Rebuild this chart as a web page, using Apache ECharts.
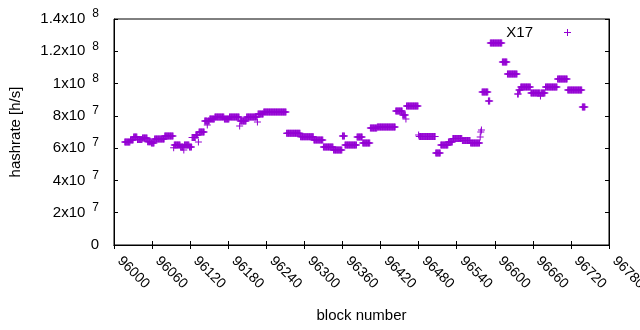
<!DOCTYPE html>
<html>
<head>
<meta charset="utf-8">
<script src="https://cdn.jsdelivr.net/npm/echarts@6/dist/echarts.min.js"></script>
<style>
html, body { margin: 0; padding: 0; background: #fff; }
#chart { width: 640px; height: 330px; }
</style>
</head>
<body>
<div id="chart"></div>
<script>
// hashrate stays constant over runs of blocks: [first block, last block, MH/s]
var runs = [
    [96017, 96025, 63.8], [96026, 96030, 65.1], [96031, 96036, 66.9], [96037, 96044, 65.4],
    [96045, 96052, 66.3], [96053, 96058, 64.0], [96059, 96063, 63.2], [96064, 96079, 65.7],
    [96080, 96093, 67.5], [96094, 96094, 60.2], [96095, 96104, 62.0], [96105, 96109, 60.7],
    [96110, 96110, 58.9], [96111, 96118, 62.0], [96119, 96122, 60.7], [96123, 96128, 66.6],
    [96129, 96132, 68.2], [96133, 96133, 63.8], [96134, 96142, 70.0], [96143, 96146, 76.8],
    [96147, 96147, 74.4], [96148, 96150, 76.8], [96151, 96158, 78.1], [96159, 96173, 79.3],
    [96174, 96181, 78.1], [96182, 96197, 79.3], [96198, 96198, 73.7], [96199, 96208, 76.8],
    [96209, 96225, 79.3], [96226, 96226, 76.2], [96227, 96235, 81.2], [96236, 96271, 82.4],
    [96272, 96293, 69.2], [96294, 96314, 67.1], [96315, 96329, 65.0], [96330, 96345, 60.7],
    [96346, 96359, 58.9], [96360, 96363, 67.5], [96364, 96382, 62.0], [96383, 96391, 66.9],
    [96392, 96403, 63.2], [96404, 96414, 72.5], [96415, 96443, 73.1], [96444, 96454, 83.0],
    [96455, 96459, 80.5], [96460, 96460, 78.1], [96461, 96479, 86.1], [96480, 96480, 68.2],
    [96481, 96506, 67.2], [96507, 96514, 57.0], [96515, 96526, 62.0], [96527, 96533, 63.8],
    [96534, 96548, 66.0], [96549, 96561, 64.7], [96562, 96576, 63.2], [96577, 96577, 66.9],
    [96578, 96578, 70.0], [96579, 96579, 71.2], [96580, 96589, 94.8], [96590, 96592, 89.2],
    [96593, 96611, 125.2], [96612, 96619, 113.4], [96620, 96635, 105.9], [96636, 96637, 93.6],
    [96638, 96640, 96.0], [96641, 96656, 97.9], [96657, 96663, 94.2], [96664, 96671, 94.2],
    [96672, 96672, 92.3], [96673, 96679, 94.2], [96680, 96698, 97.9], [96699, 96714, 102.8],
    [96715, 96737, 96.0], [96738, 96742, 85.5]
];
var seriesName = 'X17';
var xRange = [96000, 96780, 60];
var yRange = [0, 1.4e8, 2e7];

// one point per block
var points = [];
runs.forEach(function (r) {
    for (var b = r[0]; b <= r[1]; b++) {
        points.push([b, r[2] * 1e6]);
    }
});

var plus = 'path://M0,3h7v1h-7z M3,0h1v7h-1z';
var font = 'Liberation Sans, Arial, sans-serif';

// gnuplot style "1.4x10^8"
function sciLabel(v) {
    if (v === 0) return '0';
    var e = Math.floor(Math.log10(v) + 1e-9);
    var m = Math.round(v / Math.pow(10, e) * 10) / 10;
    return m + 'x10{s|' + e + '}';
}

var myChart = echarts.init(document.getElementById('chart'));
var option = {
    animation: false,
    textStyle: { fontFamily: font },
    grid: {
        left: 114, right: 31, top: 19, bottom: 85,
        outerBoundsMode: 'none',
        containLabel: false,
        show: true, borderColor: '#000', borderWidth: 1
    },
    legend: {
        data: [seriesName],
        right: 64, top: 20,
        align: 'right',
        icon: plus,
        itemWidth: 7, itemHeight: 7,
        itemGap: 0,
        textStyle: { fontSize: 15, color: '#000', fontFamily: font, padding: [0, 26, 0, 0] }
    },
    xAxis: [
        {
            type: 'value',
            min: xRange[0], max: xRange[1], interval: xRange[2],
            name: 'block number',
            nameLocation: 'middle',
            nameGap: 63,
            nameTextStyle: { fontSize: 15, color: '#000', fontFamily: font },
            axisLine: { lineStyle: { color: '#000' } },
            axisTick: { inside: true, length: 4, lineStyle: { color: '#000' } },
            axisLabel: {
                rotate: -45, margin: 8, padding: [0, 0, 0, 8],
                fontSize: 14, color: '#000', fontFamily: font,
                formatter: function (v) { return String(v); }
            },
            splitLine: { show: false }
        },
        {
            type: 'value', position: 'top',
            min: xRange[0], max: xRange[1], interval: xRange[2],
            axisLine: { lineStyle: { color: '#000' } },
            axisTick: { inside: true, length: 4, lineStyle: { color: '#000' } },
            axisLabel: { show: false },
            splitLine: { show: false }
        }
    ],
    yAxis: [
        {
            type: 'value',
            min: yRange[0], max: yRange[1], interval: yRange[2],
            name: 'hashrate [h/s]',
            nameLocation: 'middle',
            nameGap: 91,
            nameTextStyle: { fontSize: 15, color: '#000', fontFamily: font },
            axisLine: { lineStyle: { color: '#000' } },
            axisTick: { inside: true, length: 4, lineStyle: { color: '#000' } },
            axisLabel: {
                margin: 15,
                fontSize: 15,
                color: '#000',
                fontFamily: font,
                formatter: sciLabel,
                rich: {
                    s: { fontSize: 12, color: '#000', fontFamily: font, padding: [0, 0, 10, 7] }
                }
            },
            splitLine: { show: false }
        },
        {
            type: 'value', position: 'right',
            min: yRange[0], max: yRange[1], interval: yRange[2],
            axisLine: { lineStyle: { color: '#000' } },
            axisTick: { inside: true, length: 4, lineStyle: { color: '#000' } },
            axisLabel: { show: false },
            splitLine: { show: false }
        }
    ],
    series: [
        {
            name: seriesName,
            type: 'scatter',
            symbol: plus,
            symbolSize: 7,
            itemStyle: { color: '#9400d3', opacity: 1 },
            data: points
        }
    ]
};
myChart.setOption(option);
</script>
</body>
</html>
